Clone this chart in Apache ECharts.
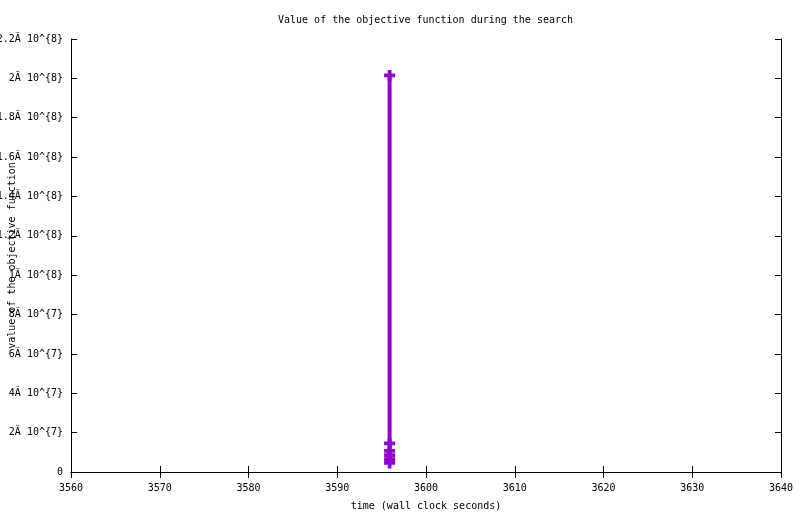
<!DOCTYPE html>
<html>
<head>
<meta charset="utf-8">
<script src="https://cdn.jsdelivr.net/npm/echarts@6/dist/echarts.min.js"></script>
<style>html,body{margin:0;padding:0;background:#fff}#c{width:800px;height:514px}</style>
</head>
<body>
<div id="c"></div>
<script>
const times = [3595.9, 3595.9, 3595.9, 3595.9, 3595.9, 3595.9];
const objective = [2.015e8, 1.45e7, 1.07e7, 8.6e6, 6.6e6, 4.6e6];
const yTickLabels = ['0', '2Ă 10^{7}', '4Ă 10^{7}', '6Ă 10^{7}', '8Ă 10^{7}', '1Ă 10^{8}',
  '1.2Ă 10^{8}', '1.4Ă 10^{8}', '1.6Ă 10^{8}', '1.8Ă 10^{8}', '2Ă 10^{8}', '2.2Ă 10^{8}'];
const titleText = 'Value of the objective function during the search';
const xName = 'time (wall clock seconds)';
const yName = 'value of the objective function';

const font = 'DejaVu Sans Mono';
const chart = echarts.init(document.getElementById('c'));
const axisLine = {show: true, lineStyle: {color: '#000', width: 1}};
const tick = {show: true, inside: true, length: 6, lineStyle: {color: '#000'}};
chart.setOption({
  animation: false,
  backgroundColor: '#fff',
  title: {text: titleText, left: 273, top: 10,
    textStyle: {fontFamily: font, fontSize: 10, fontWeight: 'normal', color: '#000'}},
  grid: {left: 71, right: 19, top: 39, bottom: 42, containLabel: false, outerBoundsMode: 'none'},
  xAxis: [{
    type: 'value', min: 3560, max: 3640, interval: 10, position: 'bottom',
    name: xName, nameLocation: 'middle', nameGap: 29, nameMoveOverlap: false,
    nameTextStyle: {fontFamily: font, fontSize: 10, color: '#000'},
    axisLine: axisLine, axisTick: tick, splitLine: {show: false},
    axisLabel: {fontFamily: font, fontSize: 10, color: '#000', margin: 11, formatter: v => String(v)}
  }, {
    type: 'value', min: 3560, max: 3640, interval: 10, position: 'top',
    axisLine: axisLine, axisTick: tick, splitLine: {show: false}, axisLabel: {show: false}
  }],
  yAxis: [{
    type: 'value', min: 0, max: 2.2e8, interval: 2e7, position: 'left',
    name: yName, nameLocation: 'middle', nameGap: 54, nameRotate: 90, nameMoveOverlap: false,
    nameTextStyle: {fontFamily: font, fontSize: 10, color: '#000'},
    axisLine: axisLine, axisTick: tick, splitLine: {show: false},
    axisLabel: {fontFamily: font, fontSize: 10, color: '#000', margin: 8,
      formatter: v => yTickLabels[Math.round(v / 2e7)]}
  }, {
    type: 'value', min: 0, max: 2.2e8, interval: 2e7, position: 'right',
    axisLine: axisLine, axisTick: tick, splitLine: {show: false}, axisLabel: {show: false}
  }],
  series: [{
    type: 'line',
    data: times.map((t, i) => [t, objective[i]]),
    lineStyle: {color: '#9400D3', width: 4},
    itemStyle: {color: '#9400D3'},
    symbol: 'path://M3.3,0H6.7V3.3H10V6.7H6.7V10H3.3V6.7H0V3.3H3.3Z',
    symbolSize: 11,
    showSymbol: true
  }]
});
</script>
</body>
</html>
